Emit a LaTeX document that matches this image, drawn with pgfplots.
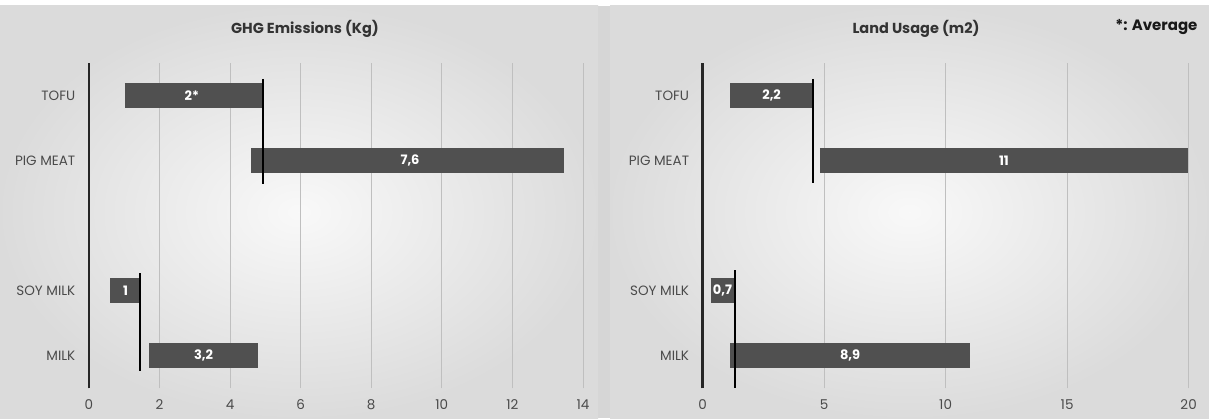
\documentclass[border=0pt]{standalone}
\usepackage{fontspec}
\setmainfont{Poppins}
\usepackage{pgfplots}
\pgfplotsset{compat=1.18}
\definecolor{barc}{HTML}{505050}
\definecolor{labc}{HTML}{4A4A4A}
\definecolor{titc}{HTML}{333333}
\pgfplotsset{
  panel/.style={
    scale only axis, height=325pt,
    ymin=-0.5, ymax=4.5,
    ytick={0,1,3,4}, yticklabels={MILK,SOY MILK,PIG MEAT,TOFU},
    axis lines*=left,
    x axis line style={draw=none},
    y axis line style={line width=2.4pt, draw=black!85},
    major tick length=0pt,
    xmajorgrids, grid style={gray!50, line width=0.7pt},
    tick label style={font=\fontsize{13.5}{15}\selectfont, text=labc},
    xticklabel style={yshift=-8pt},
    yticklabel style={xshift=-10pt},
    /pgf/number format/assume math mode=true,
    clip=false,
  },
  rng/.style={barc, line width=25pt, no marks},
  avg/.style={black, line width=2.2pt, no marks},
  lab/.style={draw=none, no marks, nodes near coords, point meta=explicit symbolic,
    nodes near coords style={anchor=center, text=white, font=\bfseries\fontsize{13}{15}\selectfont}},
}
\begin{document}
\begin{tikzpicture}
\fill[white] (0pt,0pt) rectangle (1209pt,418pt);
\fill[gray!32] (0pt,0pt) rectangle (1209pt,412pt);
\shade[inner color=gray!5, outer color=gray!28] (0pt,0pt) rectangle (598pt,412pt);
\shade[inner color=gray!5, outer color=gray!28] (610pt,0pt) rectangle (1209pt,412pt);

% GHG emissions (kg)
\begin{axis}[panel, anchor=south west, at={(88.8pt,29.7pt)}, width=494.2pt, xmin=0, xmax=14, xtick={0,2,...,14}]
\addplot[rng] coordinates {(1.02,4) (4.94,4)};
\addplot[rng] coordinates {(4.60,3) (13.47,3)};
\addplot[rng] coordinates {(0.61,1) (1.46,1)};
\addplot[rng] coordinates {(1.71,0) (4.79,0)};
\addplot[avg] coordinates {(4.94,4.26) (4.94,2.64)};
\addplot[avg] coordinates {(1.46,1.27) (1.46,-0.23)};
\addplot[lab] table[meta=lab] {
x y lab
2.92 4 2*
9.1 3 7,6
1.04 1 1
3.25 0 3,2
};
\end{axis}

% Land usage (m2)
\begin{axis}[panel, anchor=south west, at={(702.6pt,29.7pt)}, width=486pt, xmin=0, xmax=20, xtick={0,5,...,20}]
\addplot[rng] coordinates {(1.13,4) (4.55,4)};
\addplot[rng] coordinates {(4.83,3) (19.98,3)};
\addplot[rng] coordinates {(0.33,1) (1.32,1)};
\addplot[rng] coordinates {(1.13,0) (11.0,0)};
\addplot[avg] coordinates {(4.55,4.26) (4.55,2.66)};
\addplot[avg] coordinates {(1.32,1.32) (1.32,-0.5)};
\addplot[lab] table[meta=lab] {
x y lab
2.84 4 2,2
12.4 3 11
0.82 1 0,7
6.07 0 8,9
};
\end{axis}

\node[font=\bfseries\fontsize{14.5}{17}\selectfont, text=titc] at (305pt,389pt) {GHG Emissions (Kg)};
\node[font=\bfseries\fontsize{14.5}{17}\selectfont, text=titc] at (916pt,389pt) {Land Usage (m2)};
\node[anchor=east, font=\bfseries\fontsize{15}{17}\selectfont, text=black!90] at (1201pt,391pt) {*: Average};
\end{tikzpicture}
\end{document}
